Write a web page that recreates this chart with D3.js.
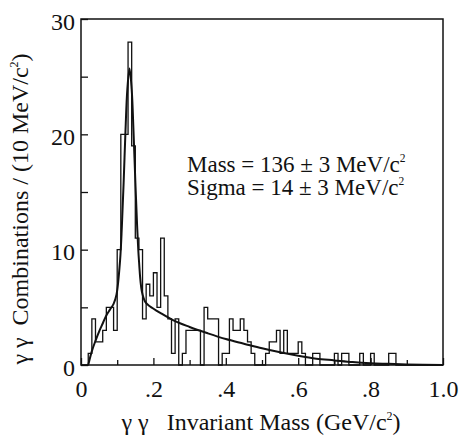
<!DOCTYPE html>
<html>
<head>
<meta charset="utf-8">
<script src="https://cdn.jsdelivr.net/npm/d3@7"></script>
<style>
  body { margin: 0; background: #fff; }
  svg, svg text { font-family: "Liberation Serif", "Times New Roman", "DejaVu Serif", serif; }
  text { fill: #111; white-space: pre; }
</style>
</head>
<body>
<svg id="chart" width="462" height="437"></svg>
<script>
// histogram: 10 MeV bins from 0 to 1 GeV
var binWidth = 0.01;
var counts = [
  0, 0, 1, 4, 2, 2, 3, 5, 5, 3,
  10, 20, 20, 28, 19, 11, 10, 4, 7, 6,
  8, 5, 11, 6, 4, 1, 4, 0, 1, 3,
  3, 3, 3, 0, 5, 4, 4, 4, 0, 1,
  1, 4, 3, 3, 4, 3, 2, 1, 0, 0,
  0, 1, 2, 2, 3, 1, 3, 1, 1, 1,
  2, 1, 0, 0, 1, 1, 0, 0, 0, 0,
  1, 0, 1, 1, 0, 0, 0, 1, 0, 0,
  1, 0, 0, 0, 0, 1, 1, 0, 0, 0,
  0, 0, 0, 0, 0, 0, 0, 0, 0, 0
];

// fitted curve, points
var fitMass = [0.02, 0.03, 0.04, 0.05, 0.06, 0.07, 0.08, 0.09, 0.098, 0.108, 0.113, 0.118, 0.123, 0.128,
  0.134, 0.140, 0.145, 0.150, 0.155, 0.160, 0.168, 0.178, 0.19, 0.22, 0.26, 0.30, 0.35, 0.40,
  0.45, 0.50, 0.55, 0.60, 0.65, 0.70, 0.75, 0.80, 0.85, 0.90, 1.00];
var fitCount = [0, 1.2, 2.1, 2.9, 3.6, 4.3, 4.8, 5.3, 6.1, 9.1, 12.1, 16.0, 20.4, 23.9,
  25.7, 23.9, 20.3, 16.0, 12.1, 9.1, 6.4, 5.45, 5.1, 4.5, 3.8, 3.3, 2.75, 2.25,
  1.85, 1.45, 1.1, 0.8, 0.55, 0.4, 0.25, 0.15, 0.1, 0.05, 0];

var xMajor = [0, 0.2, 0.4, 0.6, 0.8, 1.0];
var xMinor = [0.1, 0.3, 0.5, 0.7, 0.9];
var yMajor = [0, 10, 20, 30];
var yMinor = [5, 15, 25];

var SERIF = "'Liberation Serif', 'Times New Roman', serif";
var m = { left: 81, top: 19, right: 19, bottom: 72 };
var W = 462, H = 437;

var svg = d3.select("#chart");
var x = d3.scaleLinear().domain([0, 1]).range([m.left, W - m.right]);
var y = d3.scaleLinear().domain([0, 30]).range([H - m.bottom, m.top]);

function xLabel(d) {
  if (d === 0) return "0";
  if (d === 1) return "1.0";
  return String(d).replace(/^0/, "");
}

// bottom axis, ticks pointing inwards
var gx = svg.append("g").attr("transform", "translate(0," + y(0) + ")");
gx.call(d3.axisBottom(x).tickValues(xMajor).tickSize(-7).tickPadding(15).tickFormat(xLabel));
gx.append("g").call(d3.axisBottom(x).tickValues(xMinor).tickSize(-5).tickFormat(""));

var gy = svg.append("g").attr("transform", "translate(" + x(0) + ",0)");
gy.call(d3.axisLeft(y).tickValues(yMajor).tickSize(-7).tickPadding(6).tickFormat(d3.format("d")));
gy.append("g").call(d3.axisLeft(y).tickValues(yMinor).tickSize(-7).tickFormat(""));

svg.selectAll(".domain").remove();
svg.selectAll("g").attr("font-family", SERIF);
svg.selectAll(".tick line").attr("stroke", "#111").attr("stroke-width", 1.3);
svg.selectAll(".tick text")
  .attr("font-family", SERIF)
  .attr("font-size", 24)
  .attr("fill", "#111");
gy.selectAll(".tick text").attr("dy", "0.42em");

// frame
svg.append("rect")
  .attr("x", x(0)).attr("y", y(30))
  .attr("width", x(1) - x(0)).attr("height", y(0) - y(30))
  .attr("fill", "none").attr("stroke", "#111").attr("stroke-width", 1.5);

// histogram as a step line
var edges = counts.map(function (c, i) { return [i * binWidth, c]; });
edges.push([counts.length * binWidth, counts[counts.length - 1]]);
svg.append("path")
  .datum(edges)
  .attr("fill", "none")
  .attr("stroke", "#111")
  .attr("stroke-width", 1.3)
  .attr("d", d3.line()
    .x(function (d) { return x(d[0]); })
    .y(function (d) { return y(d[1]); })
    .curve(d3.curveStepAfter));

// fit curve
var fit = fitMass.map(function (v, i) { return [v, fitCount[i]]; });
svg.append("path")
  .datum(fit)
  .attr("fill", "none")
  .attr("stroke", "#111")
  .attr("stroke-width", 2)
  .attr("d", d3.line()
    .x(function (d) { return x(d[0]); })
    .y(function (d) { return y(d[1]); })
    .curve(d3.curveCatmullRom.alpha(0.5)));

// text ending in c^2, optional closing bracket
function withSquare(sel, txt, size, tail) {
  sel.append("tspan").text(txt);
  sel.append("tspan").text("2").attr("dy", -size * 0.42).attr("font-size", size * 0.5);
  if (tail) sel.append("tspan").text(tail).attr("dy", size * 0.42);
}

var l1 = svg.append("text").attr("x", 187).attr("y", 172)
  .attr("font-family", SERIF).attr("font-size", 23);
withSquare(l1, "Mass = 136 \u00b1 3 MeV/c", 23);
var l2 = svg.append("text").attr("x", 187).attr("y", 195)
  .attr("font-family", SERIF).attr("font-size", 23);
withSquare(l2, "Sigma = 14 \u00b1 3 MeV/c", 23);

var xt = svg.append("text")
  .attr("x", 261).attr("y", 430)
  .attr("text-anchor", "middle")
  .attr("font-family", SERIF).attr("font-size", 24);
withSquare(xt, "\u03b3\u00a0\u03b3\u00a0\u00a0\u00a0Invariant Mass (GeV/c", 24, ")");

var yt = svg.append("text")
  .attr("transform", "translate(28,209) rotate(-90)")
  .attr("text-anchor", "middle")
  .attr("font-family", SERIF).attr("font-size", 24);
withSquare(yt, "\u03b3\u00a0\u03b3\u00a0\u00a0Combinations / (10 MeV/c", 24, ")");
</script>
</body>
</html>
